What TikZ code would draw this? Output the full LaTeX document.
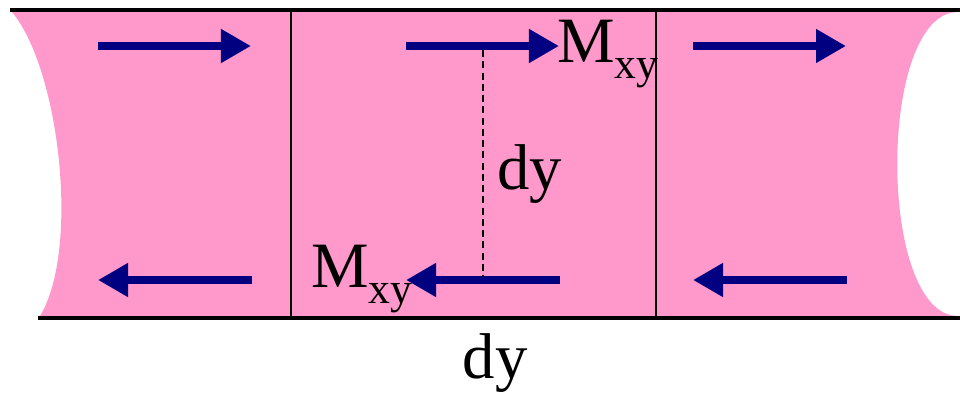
\documentclass[tikz,border=0pt]{standalone}
\usepackage{fontspec}
\setmainfont{Liberation Serif}
\usetikzlibrary{arrows.meta}
\definecolor{mxyPink}{HTML}{FF99CC}
\definecolor{mxyNavy}{HTML}{000080}
\tikzset{
  mxy edge/.style={draw=black, line width=2.9pt},
  mxy cut/.style={draw=black, line width=1pt},
  mxy arrow/.style={draw=mxyNavy, line width=5.6pt, -{Triangle[length=0.75cm,width=0.8cm]}},
  mxy guide/.style={draw=black, dash pattern=on 5pt off 3pt, line width=0.9pt},
  mxy label/.style={inner sep=0pt, font=\fontsize{46}{50}\selectfont},
}
\begin{document}
\begin{tikzpicture}[x=.025cm,y=-.025cm]
  \useasboundingbox (0,0) rectangle (960,397);
  % strip with curved ends
  \fill[mxyPink] (12,12) -- (958,12) .. controls (877,12) and (877,316) .. (958,316) -- (40,316) .. controls (80,250) and (60,70) .. (12,12) -- cycle;
  \draw[mxy edge] (10,10) -- (960,10);
  \draw[mxy edge] (38,318) -- (960,318);
  \foreach \x in {291,656}{\draw[mxy cut] (\x,10) -- (\x,318);}
  % moments on each slice
  \foreach \n/\x in {a/98,b/406,c/693}{
    \coordinate (top\n w) at (\x,46); \coordinate (top\n e) at (\x+153,46);
    \coordinate (bot\n w) at (\x,280); \coordinate (bot\n e) at (\x+154,280);
    \draw[mxy arrow] (top\n w) -- (top\n e);
    \draw[mxy arrow] (bot\n e) -- (bot\n w);
  }
  \coordinate (guidetop) at (483,50);
  \coordinate (guidebot) at (483,277);
  \draw[mxy guide] (guidetop) -- (guidebot);
  \node[mxy label, anchor=base west] (mxytop) at (557,62) {M\raisebox{-.25em}{\fontsize{31}{31}\selectfont xy}};
  \node[mxy label, anchor=base west] (mxybot) at (311,287) {M\raisebox{-.25em}{\fontsize{31}{31}\selectfont xy}};
  \node[mxy label, anchor=base west] (dymid) at (497,189) {dy};
  \node[mxy label, anchor=base] (dybot) at (495,378) {dy};
\end{tikzpicture}
\end{document}
